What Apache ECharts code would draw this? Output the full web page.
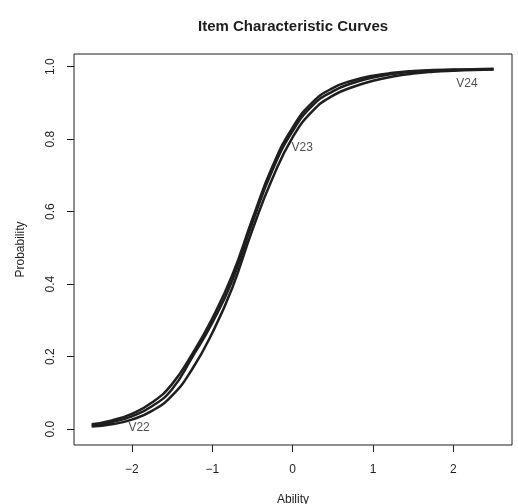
<!DOCTYPE html>
<html>
<head>
<meta charset="utf-8">
<script src="https://cdn.jsdelivr.net/npm/echarts@6/dist/echarts.min.js"></script>
<style>html,body{margin:0;padding:0;background:#fff}#c{width:518px;height:504px}</style>
</head>
<body>
<div id="c"></div>
<script>
const abilityX = [-2.5,-2.25,-2,-1.75,-1.5,-1.25,-1,-0.75,-0.5,-0.25,0,0.25,0.5,0.75,1,1.25,1.5,1.75,2,2.25,2.5];
const curveV24 = [0.013,0.024,0.042,0.073,0.124,0.207,0.305,0.425,0.580,0.725,0.832,0.902,0.941,0.962,0.975,0.983,0.988,0.991,0.992,0.993,0.994];
const curveV23 = [0.010,0.019,0.035,0.063,0.110,0.198,0.293,0.410,0.570,0.715,0.822,0.893,0.932,0.955,0.970,0.980,0.986,0.989,0.991,0.992,0.993];
const curveV22 = [0.007,0.013,0.026,0.050,0.092,0.165,0.265,0.390,0.550,0.692,0.805,0.878,0.920,0.944,0.961,0.973,0.981,0.986,0.989,0.991,0.992];
const itemNames = ['V22','V23','V24'];
const labelX = [-1.91, 0.12, 2.17];
const labelY = [0.003, 0.776, 0.953];
const xTicks = [-2,-1,0,1,2];
const yTicks = [0,0.2,0.4,0.6,0.8,1.0];

const font = "'Liberation Sans', Arial, sans-serif";
const ink = '#1e1e1e';
const pairs = arr => abilityX.map((x,i)=>[x,arr[i]]);
const curves = [curveV22, curveV23, curveV24];

const chart = echarts.init(document.getElementById('c'));
chart.setOption({
  animation: false,
  backgroundColor: '#fff',
  title: {
    text: 'Item Characteristic Curves',
    left: 193, top: 14,
    textStyle: {fontFamily: font, fontSize: 15, fontWeight: 'bold', color: ink}
  },
  grid: {left: 74, right: 6, top: 54, bottom: 59, outerBoundsMode: 'none', containLabel: false,
    show: true, borderColor: ink, borderWidth: 1, backgroundColor: 'transparent'},
  xAxis: {
    type: 'value', min: -2.72, max: 2.73,
    name: 'Ability', nameLocation: 'middle', nameGap: 49,
    nameTextStyle: {fontFamily: font, fontSize: 12, color: ink},
    axisLine: {show: false, onZero: false},
    axisTick: {show: true, length: 7, customValues: xTicks, lineStyle: {color: ink}},
    axisLabel: {customValues: xTicks, margin: 19, fontFamily: font, fontSize: 12, color: ink,
      formatter: v => (v < 0 ? '\u2212' + Math.abs(v) : String(v))},
    splitLine: {show: false}
  },
  yAxis: {
    type: 'value', min: -0.044, max: 1.035,
    name: 'Probability', nameLocation: 'middle', nameGap: 47, nameRotate: 90,
    nameTextStyle: {fontFamily: font, fontSize: 12, color: ink},
    axisLine: {show: false, onZero: false},
    axisTick: {show: true, length: 7, customValues: yTicks, lineStyle: {color: ink}},
    axisLabel: {customValues: yTicks, rotate: 90, margin: 17, fontFamily: font, fontSize: 12, color: ink,
      formatter: v => v.toFixed(1)},
    splitLine: {show: false}
  },
  series: curves.map((c,i)=>({
    name: itemNames[i], type: 'line', data: pairs(c), smooth: true, showSymbol: false,
    lineStyle: {color: ink, width: 2.5}
  })).concat([{
    type: 'scatter', symbolSize: 0,
    data: itemNames.map((n,i)=>({value:[labelX[i], labelY[i]], name: n})),
    label: {show: true, position: 'inside', formatter: p => p.name, fontFamily: font, fontSize: 12, color: ink}
  }])
});
</script>
</body>
</html>
